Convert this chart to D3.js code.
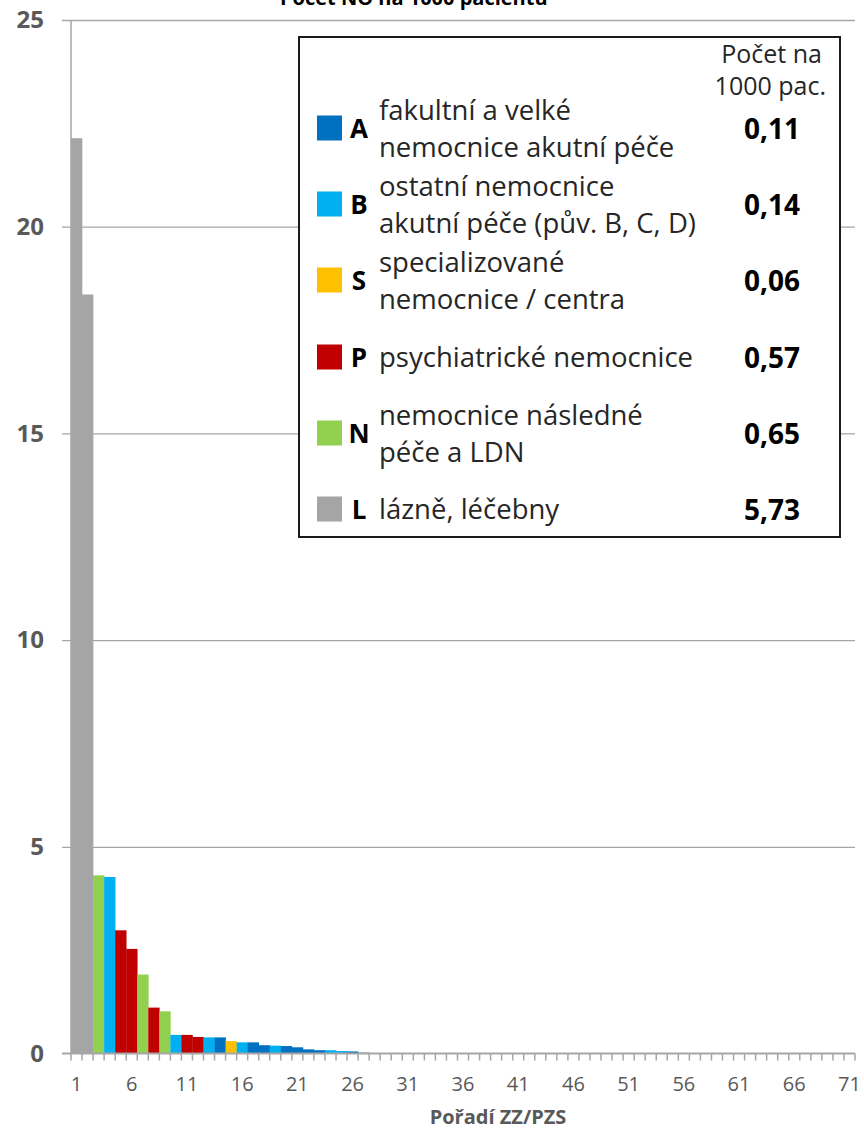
<!DOCTYPE html>
<html>
<head>
<meta charset="utf-8">
<script src="https://cdn.jsdelivr.net/npm/d3@7"></script>
<style>
  body { margin: 0; background: #fff; }
  text { font-family: "Open Sans", "Noto Sans", sans-serif; }
</style>
</head>
<body>
<div id="chart"></div>
<script>
// rank of the facility (1..71) and the value for each bar that is drawn
const rankTicks = [1, 6, 11, 16, 21, 26, 31, 36, 41, 46, 51, 56, 61, 66, 71]
const barRanks = [1, 2, 3, 4, 5, 6, 7, 8, 9, 10, 11, 12, 13, 14, 15, 16, 17, 18, 19, 20, 21, 22, 23, 24, 25, 26, 27, 28]
const barValues = [22.14, 18.36, 4.31, 4.27, 2.98, 2.53, 1.91, 1.11, 1.02, 0.45, 0.45, 0.40, 0.39, 0.39,
    0.30, 0.27, 0.27, 0.20, 0.19, 0.18, 0.15, 0.10, 0.08, 0.08, 0.06, 0.05, 0.02, 0.01]
const barTypes = ["L", "L", "N", "B", "P", "P", "N", "P", "N", "B", "P", "P", "B", "A",
    "S", "B", "A", "A", "B", "A", "A", "A", "A", "B", "B", "A", "A", "B"]

const yTicks = [0, 5, 10, 15, 20, 25]

// legend
const typeKeys = ["A", "B", "S", "P", "N", "L"]
const typeColors = ["#0070C0", "#00B0F0", "#FFC000", "#C00000", "#92D050", "#A5A5A5"]
const typeLabels = [
    ["fakultní a velké", "nemocnice akutní péče"],
    ["ostatní nemocnice", "akutní péče (pův. B, C, D)"],
    ["specializované", "nemocnice / centra"],
    ["psychiatrické nemocnice"],
    ["nemocnice následné", "péče a LDN"],
    ["lázně, léčebny"]
]
const typeRates = ["0,11", "0,14", "0,06", "0,57", "0,65", "5,73"]

const width = 864, height = 1129
const plot = { left: 71, right: 855, top: 20, bottom: 1053.5 }
const gridColor = "#A6A6A6"
const labelColor = "#595959"

const svg = d3.select("#chart").append("svg")
    .attr("width", width)
    .attr("height", height)

svg.append("rect").attr("width", width).attr("height", height).attr("fill", "#fff")

const color = d3.scaleOrdinal().domain(typeKeys).range(typeColors)

const x = d3.scaleBand()
    .domain(d3.range(1, 72))
    .range([plot.left, plot.right])
    .padding(0)

const y = d3.scaleLinear()
    .domain([0, 25])
    .range([plot.bottom, plot.top])

// gridlines + y labels
const yaxis = d3.axisLeft(y)
    .tickValues(yTicks)
    .tickSize(plot.right - plot.left + 9)
    .tickPadding(18)

svg.append("g")
    .attr("transform", "translate(" + plot.right + ",0)")
    .call(yaxis)
    .call(g => g.select(".domain").remove())
    .call(g => g.selectAll(".tick line").attr("stroke", gridColor).attr("stroke-width", 1.3)
        .attr("opacity", d => d === 0 ? 0 : 1))
    .call(g => g.selectAll(".tick text")
        .attr("fill", labelColor)
        .style("font-size", "24px")
        .style("font-weight", "bold")
        .style("font-family", "'Open Sans', sans-serif"))

// bars
svg.append("g").selectAll("rect")
    .data(barRanks)
    .join("rect")
    .attr("x", d => x(d))
    .attr("width", x.bandwidth() + 0.3)
    .attr("y", (d, i) => y(barValues[i]))
    .attr("height", (d, i) => y(0) - y(barValues[i]))
    .attr("fill", (d, i) => color(barTypes[i]))

// y axis line
svg.append("line")
    .attr("x1", plot.left).attr("x2", plot.left)
    .attr("y1", y(25)).attr("y2", y(0))
    .attr("stroke", gridColor).attr("stroke-width", 1.5)

// x axis: line, ticks between categories, labels
svg.append("line")
    .attr("x1", plot.left - 9).attr("x2", plot.right)
    .attr("y1", y(0)).attr("y2", y(0))
    .attr("stroke", gridColor).attr("stroke-width", 2)

svg.append("g").selectAll("line")
    .data(d3.range(1, 73))
    .join("line")
    .attr("x1", d => d <= 71 ? x(d) : plot.right)
    .attr("x2", d => d <= 71 ? x(d) : plot.right)
    .attr("y1", y(0))
    .attr("y2", y(0) + 7)
    .attr("stroke", gridColor)
    .attr("stroke-width", 1.5)

svg.append("g").selectAll("text")
    .data(rankTicks)
    .join("text")
    .attr("x", d => x(d) + x.bandwidth() / 2)
    .attr("y", 1091)
    .attr("text-anchor", "middle")
    .attr("fill", labelColor)
    .style("font-size", "20px")
    .text(d => d)

svg.append("text")
    .attr("x", 498)
    .attr("y", 1124)
    .attr("text-anchor", "middle")
    .attr("fill", labelColor)
    .style("font-size", "20px")
    .style("font-weight", "bold")
    .text("Pořadí ZZ/PZS")

// title, cut at the top edge as in the source
svg.append("text")
    .attr("x", 280)
    .attr("y", 5)
    .attr("fill", "#000")
    .style("font-size", "20px")
    .style("font-weight", "bold")
    .text("Počet NO na 1000 pacientů")

// legend box
const legend = svg.append("g")

legend.append("rect")
    .attr("x", 299).attr("y", 37)
    .attr("width", 541).attr("height", 500)
    .attr("fill", "#fff")
    .attr("stroke", "#1a1a1a")
    .attr("stroke-width", 2)

legend.append("text")
    .attr("x", 822).attr("y", 63)
    .attr("text-anchor", "end")
    .attr("fill", "#262626")
    .style("font-size", "25px")
    .text("Počet na")

legend.append("text")
    .attr("x", 826).attr("y", 95)
    .attr("text-anchor", "end")
    .attr("fill", "#262626")
    .style("font-size", "25px")
    .text("1000 pac.")

const rowCenters = [128, 204, 280, 357, 433, 509]

const rows = legend.selectAll("g.row")
    .data(typeKeys)
    .join("g")
    .attr("class", "row")
    .attr("transform", (d, i) => "translate(0," + rowCenters[i] + ")")

rows.append("rect")
    .attr("x", 317).attr("y", -12.5)
    .attr("width", 25).attr("height", 25)
    .attr("fill", d => color(d))

rows.append("text")
    .attr("x", 359).attr("y", 10)
    .attr("text-anchor", "middle")
    .attr("fill", "#000")
    .style("font-size", "26px")
    .style("font-weight", "bold")
    .text(d => d)

rows.each(function (d, i) {
    const lines = typeLabels[i]
    const base = lines.length === 1 ? [10] : [-8, 29]
    d3.select(this).selectAll("text.lab")
        .data(lines)
        .join("text")
        .attr("class", "lab")
        .attr("x", 379)
        .attr("y", (l, j) => base[j])
        .attr("fill", "#262626")
        .style("font-size", "27.5px")
        .text(l => l)
})

rows.append("text")
    .attr("x", 772).attr("y", 11)
    .attr("text-anchor", "middle")
    .attr("fill", "#000")
    .style("font-size", "28px")
    .style("font-weight", "bold")
    .text((d, i) => typeRates[i])
</script>
</body>
</html>
